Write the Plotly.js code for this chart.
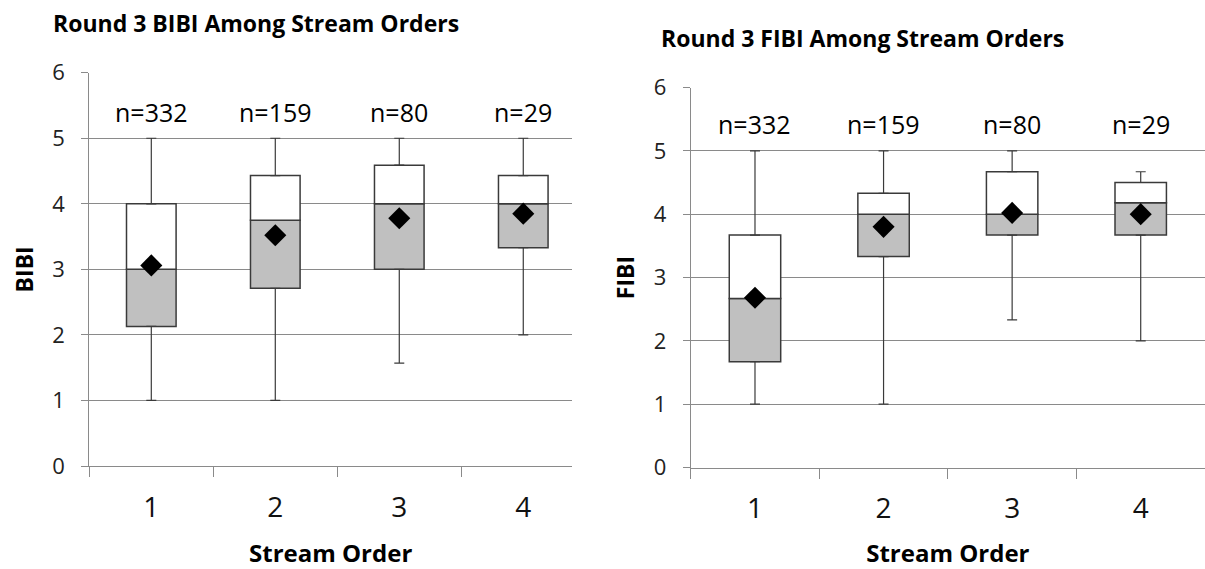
<!DOCTYPE html>
<html>
<head>
<meta charset="utf-8">
<script src="https://cdn.plot.ly/plotly-3.0.1.min.js"></script>
<style>html,body{margin:0;padding:0;background:#fff;}#chart{width:1205px;height:569px;}</style>
</head>
<body>
<div id="chart"></div>
<script>
// ---- data ----
const categories = ['1', '2', '3', '4'];
const sampleSizes = [332, 159, 80, 29];

const bibiMin    = [1.00, 1.00, 1.57, 2.00];
const bibiQ1     = [2.13, 2.71, 3.00, 3.33];
const bibiMedian = [3.00, 3.75, 4.00, 4.00];
const bibiQ3     = [4.00, 4.43, 4.59, 4.43];
const bibiMax    = [5.00, 5.00, 5.00, 5.00];
const bibiMean   = [3.06, 3.52, 3.78, 3.85];

const fibiMin    = [1.00, 1.00, 2.33, 2.00];
const fibiQ1     = [1.67, 3.33, 3.67, 3.67];
const fibiMedian = [2.67, 4.00, 4.00, 4.18];
const fibiQ3     = [3.67, 4.33, 4.67, 4.50];
const fibiMax    = [5.00, 5.00, 5.00, 4.67];
const fibiMean   = [2.68, 3.80, 4.02, 4.00];

const titles = ['Round 3 BIBI Among Stream Orders', 'Round 3 FIBI Among Stream Orders'];
const yTitles = ['BIBI', 'FIBI'];
const xTitle = 'Stream Order';

// ---- styling ----
const FONT = 'Open Sans, Noto Sans, sans-serif';
const AX = '#8a8a8a';
const EDGE = '#3a3a3a';

function sub(a, b) { return a.map((v, i) => v - b[i]); }

function panelTraces(mn, q1, med, q3, mx, mean, xa, ya) {
  const zeros = categories.map(() => 0);
  return [
    { type: 'bar', x: categories, y: sub(med, q1), base: q1, width: 0.4,
      marker: { color: '#c0c0c0', line: { color: EDGE, width: 1.5 } },
      xaxis: xa, yaxis: ya, hoverinfo: 'skip' },
    { type: 'bar', x: categories, y: sub(q3, med), base: med, width: 0.4,
      marker: { color: '#ffffff', line: { color: EDGE, width: 1.5 } },
      xaxis: xa, yaxis: ya, hoverinfo: 'skip' },
    { type: 'scatter', mode: 'markers', x: categories, y: q3,
      marker: { size: 1, opacity: 0 },
      error_y: { type: 'data', symmetric: false, array: sub(mx, q3), arrayminus: zeros,
                 color: EDGE, thickness: 1.2, width: 5 },
      xaxis: xa, yaxis: ya, hoverinfo: 'skip' },
    { type: 'scatter', mode: 'markers', x: categories, y: q1,
      marker: { size: 1, opacity: 0 },
      error_y: { type: 'data', symmetric: false, array: zeros, arrayminus: sub(q1, mn),
                 color: EDGE, thickness: 1.2, width: 5 },
      xaxis: xa, yaxis: ya, hoverinfo: 'skip' },
    { type: 'scatter', mode: 'markers', x: categories, y: mean,
      marker: { symbol: 'diamond', size: 17, color: '#000000' },
      xaxis: xa, yaxis: ya, hoverinfo: 'skip' }
  ];
}

const data = [
  ...panelTraces(bibiMin, bibiQ1, bibiMedian, bibiQ3, bibiMax, bibiMean, 'x', 'y'),
  ...panelTraces(fibiMin, fibiQ1, fibiMedian, fibiQ3, fibiMax, fibiMean, 'x2', 'y2')
];

function xAxis(domain, range, anchor) {
  return {
    type: 'category', domain: domain, range: range, anchor: anchor,
    tickson: 'boundaries', ticks: 'outside', ticklen: 10, tickcolor: AX, tickwidth: 1,
    showgrid: false, showline: true, linecolor: AX, linewidth: 1,
    tickfont: { family: FONT, size: 28, color: '#111' }, ticklabelstandoff: 16,
    title: { text: xTitle, font: { family: FONT, size: 24, color: '#000', weight: 'bold' }, standoff: 22 },
    fixedrange: true
  };
}
function yAxis(domain, anchor, titleText) {
  return {
    domain: domain, anchor: anchor, range: [0, 6], dtick: 1, tick0: 0,
    showgrid: true, gridcolor: AX, gridwidth: 1, zeroline: false,
    showline: true, linecolor: AX, linewidth: 1,
    ticks: 'outside', ticklen: 7, tickcolor: AX, tickwidth: 1,
    tickfont: { family: FONT, size: 22, color: '#222' }, ticklabelstandoff: 12,
    title: { text: titleText, font: { family: FONT, size: 23, color: '#000', weight: 'bold' }, standoff: 12 },
    fixedrange: true
  };
}

const annotations = [];
categories.forEach((c, i) => {
  annotations.push({ xref: 'x', yref: 'y', x: i, y: 5.4, text: 'n=' + sampleSizes[i], showarrow: false,
    font: { family: FONT, size: 25, color: '#000' } });
  annotations.push({ xref: 'x2', yref: 'y2', x: i, y: 5.43, text: 'n=' + sampleSizes[i], showarrow: false,
    font: { family: FONT, size: 25, color: '#000' } });
});
annotations.push({ xref: 'paper', yref: 'paper', x: 255.5 / 1205, y: 1 - 23 / 569, text: '<b>' + titles[0] + '</b>',
  showarrow: false, xanchor: 'center', yanchor: 'middle', font: { family: FONT, size: 23, color: '#000' } });
annotations.push({ xref: 'paper', yref: 'paper', x: 862.5 / 1205, y: 1 - 38 / 569, text: '<b>' + titles[1] + '</b>',
  showarrow: false, xanchor: 'center', yanchor: 'middle', font: { family: FONT, size: 23, color: '#000' } });

const layout = {
  width: 1205, height: 569,
  margin: { l: 0, r: 0, t: 0, b: 0 },
  paper_bgcolor: '#ffffff', plot_bgcolor: '#ffffff',
  showlegend: false, barmode: 'overlay',
  xaxis: xAxis([89.3 / 1205, 572 / 1205], [-0.5, 3.393], 'y'),
  yaxis: yAxis([(569 - 466) / 569, (569 - 72.7) / 569], 'x', yTitles[0]),
  xaxis2: xAxis([690.7 / 1205, 1], [-0.5, 3.5], 'y2'),
  yaxis2: yAxis([(569 - 467.5) / 569, (569 - 87.5) / 569], 'x2', yTitles[1]),
  annotations: annotations
};

Plotly.newPlot('chart', data, layout, { staticPlot: true, displayModeBar: false });
</script>
</body>
</html>
